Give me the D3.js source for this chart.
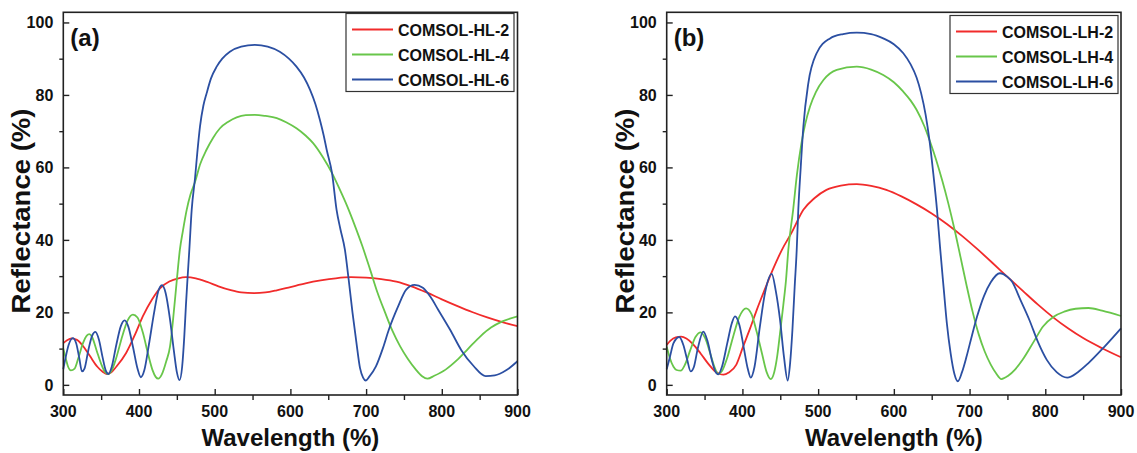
<!DOCTYPE html>
<html>
<head>
<meta charset="utf-8">
<script src="https://cdn.jsdelivr.net/npm/d3@7"></script>
<style>
  body { margin: 0; background: #fff; }
  svg { display: block; font-family: "Liberation Sans", Arial, sans-serif; font-weight: bold; }
</style>
</head>
<body>
<div id="chart-area"></div>
<script>
// wavelength (nm) / reflectance (%) pairs
const hl2 = [[300,11.5],[305,12.3],[311,12.8],[318,12.4],[325,11.0],[335,8.0],[345,5.0],[352,3.6],[357,3.0],[363,3.4],[370,5.0],[383,8.8],[395,14.0],[405,18.9],[417,23.5],[428,26.7],[440,28.5],[452,29.4],[462,29.7],[475,29.4],[490,28.4],[505,27.2],[520,26.2],[535,25.5],[552,25.3],[567,25.5],[582,26.1],[600,27.0],[620,28.0],[640,28.8],[660,29.4],[680,29.7],[700,29.6],[720,29.2],[740,28.5],[760,27.2],[780,25.5],[800,23.6],[820,21.8],[840,20.1],[860,18.6],[880,17.3],[900,16.2]];
const hl4 = [[300,10],[303,7.5],[306,5.2],[310,4.0],[315,4.5],[320,7.5],[326,11.5],[331,13.6],[334.4,14.0],[338,13.2],[344,9.5],[350,5.8],[355,3.6],[359.7,3.0],[364,4.0],[370,7.5],[378,13.5],[385,17.8],[392,19.4],[398,18.6],[405,14.5],[412,8.5],[418,4.0],[422,2.2],[425.5,1.7],[430,2.8],[436,6.5],[441,10.6],[445,18],[450,29],[454,37.3],[458,42.5],[463,48.3],[468,52.5],[474,56],[481,61],[489,64.8],[498,68.2],[507,70.8],[518,72.6],[529,73.8],[541,74.4],[553,74.5],[567,74.2],[582,73.6],[595,72.4],[608,70.8],[620,68.8],[630,66.7],[643,62.8],[655,58.4],[665,54],[675,49.3],[685,44],[695,38.3],[705,32],[715,25.5],[725,20],[735,14.8],[745,10.6],[755,7.2],[765,4.4],[774,2.4],[781,1.7],[790,2.5],[805,4.2],[820,6.8],[835,10],[851,13.4],[865,15.8],[880,17.5],[900,18.9]];
const hl6 = [[300,4.3],[303,7.5],[307,11],[312.5,12.9],[317,11.5],[321,7.5],[324.7,3.7],[328,4.5],[333,9.5],[338,13.5],[342.4,14.6],[347,12.5],[352,7.5],[356,4.0],[359.7,3.0],[364,5.0],[370,11],[376,16.2],[381,17.8],[386,16],[392,10.5],[398,4.5],[402.4,2.1],[407,4],[413,11],[420,20],[425,25.5],[430.4,27.5],[435,25.5],[441,18],[446,9.5],[450,3.5],[453.5,1.3],[457,5],[460,14],[462,22],[464,29],[466.5,37.3],[469.6,48.3],[474,57],[477,64],[480.6,71.3],[485,77],[489.4,80.5],[495,84.5],[502.6,87.8],[510,90],[520,91.9],[535,93.3],[553,93.8],[570,93.3],[586,91.9],[598,90],[608,87.8],[618,84.8],[626,81.4],[633,77.5],[639,73.1],[644,68.8],[648,64.8],[655,58.4],[661,48.3],[666,43],[672,37.3],[677,29],[682,20],[687,12],[692,4.6],[696,2],[699.5,1.2],[704,2.2],[713,5.1],[722,10],[730,15.2],[742,21.5],[753,26.3],[764,27.6],[775,26.8],[785,24.3],[795,20.8],[811,15.2],[826,9.5],[842,5.2],[858,2.4],[870,2.6],[885,4],[900,6.5]];

const lh2 = [[300,11],[305,12.2],[312,13.1],[319,13.3],[326,12.8],[335,11.2],[345,8.6],[355,5.8],[363,3.9],[370,3.0],[375,2.8],[382,3.4],[392,5.6],[401,10.6],[410,15.5],[419,20.7],[432,27.6],[440,31.7],[452,37.2],[465,42],[480.5,48.3],[495,51.5],[511,53.8],[530,55],[551,55.4],[570,54.9],[590,53.8],[610,52],[630,49.8],[650,47.3],[670,44.4],[690,41.1],[710,37.5],[730,33.7],[750,29.8],[770,26],[790,22.2],[810,18.7],[830,15.6],[850,12.9],[875,10.1],[900,7.6]];
const lh4 = [[300,10.5],[304,7.5],[309,5],[313,4.1],[318.5,3.9],[324,5.5],[331,9.5],[338,13.2],[345,14.5],[351,12.8],[357,9],[363,5],[368,3],[373,3.8],[380,7.5],[388,13.5],[396,18.8],[404.8,21.1],[412,19.5],[419,14.5],[426,8.5],[432,3.5],[437.4,1.6],[442,3.5],[446,8],[449.7,14.3],[454,22],[457.6,29],[460.6,37.2],[467,48.3],[472,58],[478,66.7],[483,72],[489.3,76.8],[497,80.8],[507,84.1],[524.6,86.9],[551,87.8],[570,87],[586,85.5],[600,83.5],[612.5,80.9],[622,78.5],[630,75.9],[640,71.5],[648,67],[656,62],[664,56.3],[672,50],[680,43],[688,35.3],[696,27.5],[704,20.2],[712,14],[720,9.2],[728,5.6],[735,3.2],[742,1.6],[751,2.5],[760,4.2],[770,6.9],[785,12],[797,16.1],[811,18.8],[825,20.2],[840,21],[857,21.2],[875,20.5],[900,19]];
const lh6 = [[300,4.3],[304,7.5],[309,11.5],[316.6,13.2],[322,11],[327,7],[331.7,3.7],[336,5],[341,10],[348.4,14.7],[354,12],[360,6.5],[364,3.8],[368.2,2.9],[373,5],[380,11.5],[386,17],[390.2,18.9],[396,16.5],[402,10],[407,4.5],[411,2.0],[416,5],[423,16],[430,25.5],[438.7,30.6],[444,26],[449.7,17.9],[455,7.5],[459.8,1.2],[463,6],[466,15],[469,27],[471.7,37.2],[473.8,48.3],[477,60],[480.5,71.3],[487,83.2],[498,91.5],[515.7,95.6],[533,96.8],[551,97.2],[570,96.8],[586,95.6],[600,94],[612.5,91.5],[622,88.5],[630,84.8],[636,80.5],[642,74.5],[647,67.5],[652,58.5],[657,48.3],[661,38],[666,26.2],[670,17],[675,8.7],[680,3],[684.5,1.0],[690,3.5],[696,7.8],[703,13.5],[710,18.9],[719,24.5],[728,28.3],[740,30.8],[750,29.8],[756,28.5],[767,23.5],[779,17.9],[790,12],[802,6.9],[815,3.5],[829,2.0],[843,3.5],[857,6],[878,10.5],[900,15.6]];

const xMajor = [300, 400, 500, 600, 700, 800, 900];
const xMinor = [350, 450, 550, 650, 750, 850];
const yMajor = [0, 20, 40, 60, 80, 100];
const yMinor = [10, 30, 50, 70, 90];

const colors = ["#f12b2b", "#68c64a", "#2b4fa2"];

const svg = d3.select("#chart-area").append("svg")
    .attr("width", 1137)
    .attr("height", 453);

function drawPanel(p) {
    const x = d3.scaleLinear().domain([300, 900]).range([p.left, p.right]);
    const y = d3.scaleLinear().domain([-2.8, 102.8]).range([395, 12.3]);
    const g = svg.append("g");

    // ticks: major inward, minor outward
    const bx = d3.axisBottom(x).tickValues(xMajor).tickSize(-6).tickFormat("");
    const bxm = d3.axisBottom(x).tickValues(xMinor).tickSize(5).tickFormat("");
    const ly = d3.axisLeft(y).tickValues(yMajor).tickSize(-6).tickFormat("");
    const lym = d3.axisLeft(y).tickValues(yMinor).tickSize(4).tickFormat("");
    [[bx, "x"], [bxm, "x"], [ly, "y"], [lym, "y"]].forEach(([ax, k]) => {
        const a = g.append("g")
            .attr("transform", k === "x" ? "translate(0,395)" : `translate(${p.left},0)`)
            .call(ax);
        a.select(".domain").remove();
        a.selectAll("line").attr("stroke", "#222").attr("stroke-width", 1.4);
    });

    g.selectAll(".xl").data(xMajor).enter().append("text")
        .attr("x", d => x(d)).attr("y", 417)
        .attr("text-anchor", "middle")
        .attr("font-size", 16).attr("fill", "#111")
        .text(d => d);
    g.selectAll(".yl").data(yMajor).enter().append("text")
        .attr("x", p.left - 10).attr("y", d => y(d) + 6)
        .attr("text-anchor", "end")
        .attr("font-size", 16).attr("fill", "#111")
        .text(d => d);

    const line = d3.line()
        .x(d => x(d[0]))
        .y(d => y(d[1]))
        .curve(d3.curveMonotoneX);

    p.series.forEach((s, i) => {
        g.append("path")
            .attr("d", line(s))
            .attr("fill", "none")
            .attr("stroke", colors[i])
            .attr("stroke-width", 1.8);
    });

    g.append("rect")
        .attr("x", p.left).attr("y", 12.3)
        .attr("width", p.right - p.left).attr("height", 395 - 12.3)
        .attr("fill", "none").attr("stroke", "#222").attr("stroke-width", 1.6);

    // legend
    const lg = g.append("g");
    lg.append("rect")
        .attr("x", p.legX).attr("y", p.legY)
        .attr("width", 168).attr("height", 78)
        .attr("fill", "#fff").attr("stroke", "#333").attr("stroke-width", 1.2);
    p.names.forEach((n, i) => {
        const yy = p.legY + 16 + i * 25;
        lg.append("line")
            .attr("x1", p.legX + 6).attr("x2", p.legX + 47)
            .attr("y1", yy).attr("y2", yy)
            .attr("stroke", colors[i]).attr("stroke-width", 1.8);
        lg.append("text")
            .attr("x", p.legX + 52).attr("y", yy + 6)
            .attr("font-size", 16).attr("fill", "#111")
            .text(n);
    });

    g.append("text")
        .attr("x", p.left + 7).attr("y", 46)
        .attr("font-size", 24).attr("fill", "#111")
        .text(p.tag);

    g.append("text")
        .attr("x", (p.left + p.right) / 2).attr("y", 446)
        .attr("text-anchor", "middle")
        .attr("font-size", 24).attr("fill", "#111")
        .text("Wavelength (%)");

    g.append("text")
        .attr("transform", `translate(${p.left - 33},211) rotate(-90)`)
        .attr("text-anchor", "middle")
        .attr("font-size", 25).attr("fill", "#111")
        .attr("textLength", 205).attr("lengthAdjust", "spacingAndGlyphs")
        .text("Reflectance (%)");
}

drawPanel({
    left: 63.3, right: 517.5, legX: 346, legY: 13.5, tag: "(a)",
    series: [hl2, hl4, hl6],
    names: ["COMSOL-HL-2", "COMSOL-HL-4", "COMSOL-HL-6"]
});
drawPanel({
    left: 666.7, right: 1121, legX: 950, legY: 15.5, tag: "(b)",
    series: [lh2, lh4, lh6],
    names: ["COMSOL-LH-2", "COMSOL-LH-4", "COMSOL-LH-6"]
});
</script>
</body>
</html>
